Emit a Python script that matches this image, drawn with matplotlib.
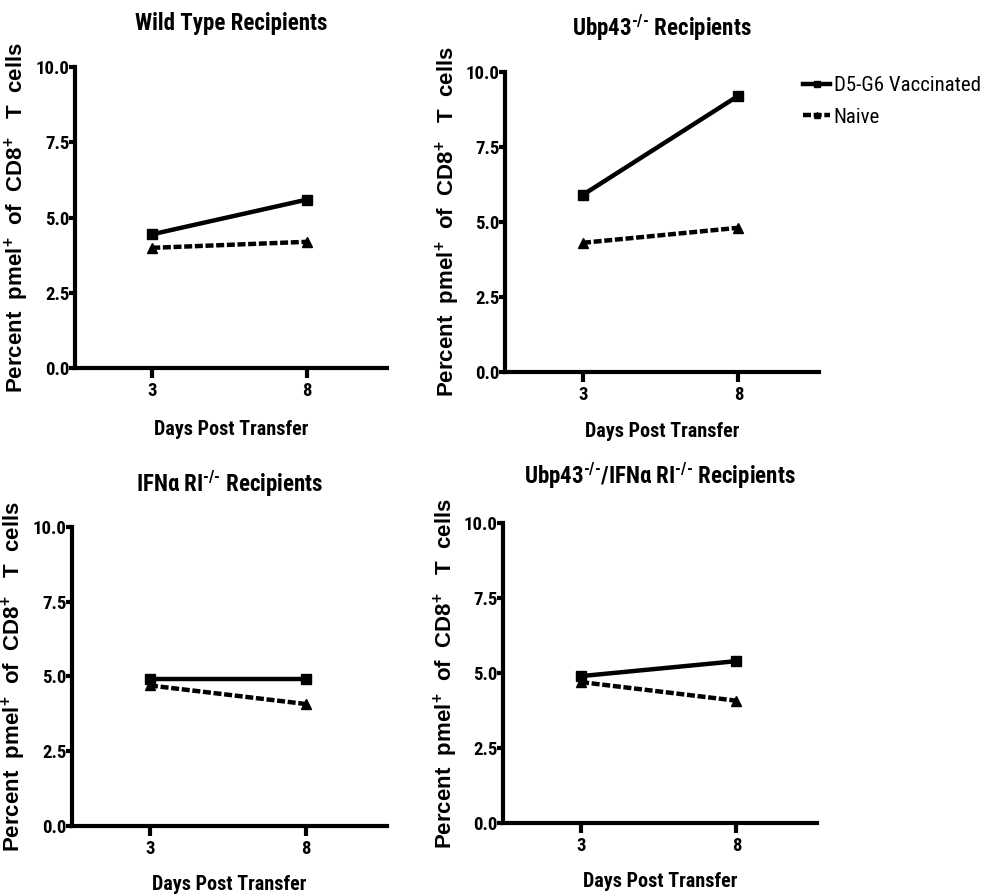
import matplotlib
matplotlib.use("Agg")
import matplotlib.pyplot as plt

plt.rcParams['font.family'] = ['Roboto Condensed', 'DejaVu Sans']
plt.rcParams['mathtext.default'] = 'regular'
plt.rcParams['mathtext.fontset'] = 'custom'
plt.rcParams['mathtext.rm'] = 'Roboto Condensed:bold'

days = [3, 8]
titles = [
    "Wild Type Recipients",
    r"Ubp43$^{\text{-/-}}$ Recipients",
    "IFN\u03b1 RI" + r"$^{\text{-/-}}$ Recipients",
    r"Ubp43$^{\text{-/-}}$/IFN" + "\u03b1 RI" + r"$^{\text{-/-}}$ Recipients",
]
vaccinated = [
    [4.45, 5.6],
    [5.9, 9.2],
    [4.9, 4.9],
    [4.9, 5.4],
]
naive = [
    [4.0, 4.2],
    [4.3, 4.8],
    [4.7, 4.08],
    [4.7, 4.08],
]
yticks = [0.0, 2.5, 5.0, 7.5, 10.0]
labels = ["D5-G6 Vaccinated", "Naive"]

fig = plt.figure(figsize=(9.87, 8.96), dpi=100)

boxes = [
    [0.076, 0.589, 0.316, 0.336],
    [0.512, 0.585, 0.318, 0.335],
    [0.073, 0.078, 0.319, 0.334],
    [0.510, 0.0815, 0.318, 0.3345],
]
title_pads = [27, 26, 25, 28.5]
xlabel_pads = [14, 13, 12, 12]

handles = []
for i, box in enumerate(boxes):
    ax = fig.add_axes(box)
    l1, = ax.plot(days, vaccinated[i], color='black', lw=3.2, marker='s', ms=7)
    l2, = ax.plot(days, naive[i], color='black', lw=3.2, marker='^', ms=7,
                  linestyle=(0, (1.8, 0.6)))
    if i == 0:
        handles = [l1, l2]
    ax.set_xlim(0.5, 10.6)
    ax.set_ylim(0, 10)
    ax.set_xticks(days)
    ax.set_yticks(yticks)
    ax.set_yticklabels([f"{v:.1f}" for v in yticks], fontsize=13.5, fontweight='bold')
    ax.set_xticklabels([str(d) for d in days], fontsize=13.5, fontweight='bold')
    for side in ['top', 'right']:
        ax.spines[side].set_visible(False)
    for side in ['left', 'bottom']:
        ax.spines[side].set_linewidth(3)
    ax.tick_params(axis='y', direction='out', length=4, width=3, pad=0)
    ax.tick_params(axis='x', direction='out', length=7, width=3, pad=3)
    ax.set_title(titles[i], fontsize=16.5, fontweight='bold', pad=title_pads[i])
    ax.set_xlabel("Days Post Transfer", fontsize=14.5, fontweight='bold',
                  labelpad=xlabel_pads[i])
    ax.set_ylabel("Percent  pmel$^{+}$  of  CD8$^{+}$   T  cells", fontsize=16,
                  fontweight='bold', family='Liberation Sans', labelpad=3)

fig.legend(handles, labels, loc='upper left', bbox_to_anchor=(0.795, 0.936),
           frameon=False, fontsize=15, handlelength=1.3, handletextpad=0.15,
           labelspacing=0.6, markerscale=0.6)

fig.savefig("out.png", dpi=100)
